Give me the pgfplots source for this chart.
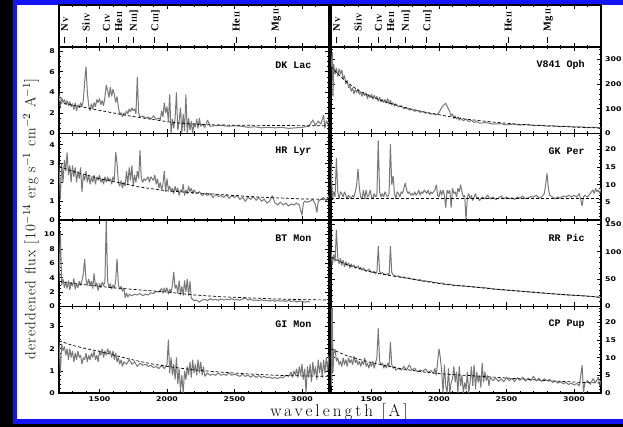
\documentclass[border=0pt]{standalone}
\usepackage{fontspec}
\usepackage{pgfplots}
\usepackage{pgfplotstable}
\pgfplotsset{compat=1.18}
\newfontfamily\tickfamily{DejaVu Sans}
\newfontfamily\namefamily{Liberation Mono}
\newfontfamily\linefamily{Liberation Serif}
\newfontfamily\labfamily{Latin Modern Roman}[LetterSpace=18]
\newfontfamily\ylabfamily{Latin Modern Roman}[LetterSpace=8]
\newcommand\tickf{\tickfamily\bfseries\fontsize{6.5pt}{7pt}\selectfont}
\newcommand\namef{\namefamily\bfseries\fontsize{10pt}{11pt}\selectfont}
\newcommand\linef{\linefamily\bfseries\fontsize{10.5pt}{11pt}\selectfont}
\newcommand\ylabf{\ylabfamily\fontsize{15pt}{17pt}\selectfont}
\newcommand\xlabf{\labfamily\fontsize{17pt}{19pt}\selectfont}
\definecolor{specgray}{RGB}{120,120,120}
\definecolor{frameblue}{RGB}{20,20,250}

% ---------------- DK Lac ----------------
\pgfplotstableread{
x y
1200 3.8
1210 2.6
1220 3.5
1230 3.0
1240 3.3
1250 2.8
1260 3.2
1270 2.7
1280 3.1
1290 2.6
1300 2.9
1310 2.3
1320 3.0
1330 2.2
1340 2.8
1350 2.5
1360 3.0
1370 2.6
1380 3.2
1390 5.0
1400 6.5
1410 4.0
1420 2.7
1430 2.2
1440 2.9
1450 2.4
1460 3.0
1470 2.6
1480 3.3
1490 3.0
1500 3.4
1510 2.8
1520 3.2
1530 2.7
1540 3.5
1550 4.7
1560 4.2
1570 3.5
1580 4.5
1590 3.6
1600 4.3
1610 3.8
1620 3.0
1630 3.6
1640 2.5
1650 1.9
1660 2.0
1670 1.6
1680 2.0
1690 1.8
1700 2.2
1710 1.9
1720 2.4
1730 2.1
1740 2.5
1750 2.2
1760 2.4
1770 1.9
1780 5.5
1790 2.0
1800 1.6
1820 1.7
1840 1.5
1860 1.6
1880 1.4
1900 1.7
1920 1.4
1940 1.5
1950 1.3
1960 2.2
1970 1.6
1980 3.0
1990 2.0
2000 2.6
2010 1.2
2020 3.8
2030 0.0
2040 1.4
2050 0.5
2060 1.5
2070 4.0
2080 0.3
2090 1.2
2100 2.5
2110 0.0
2120 1.9
2130 0.2
2140 3.8
2150 0.0
2160 1.5
2170 0.3
2180 1.2
2190 0.0
2200 1.0
2210 0.6
2220 1.4
2230 0.5
2240 1.5
2250 0.7
2260 0.9
2280 0.6
2300 1.3
2320 0.7
2350 0.75
2400 0.8
2450 0.7
2500 0.75
2550 0.7
2600 0.6
2650 0.65
2700 0.55
2750 0.6
2800 0.55
2850 0.6
2900 0.5
2950 0.55
3000 0.6
3050 0.7
3080 1.3
3100 0.8
3120 1.2
3140 0.9
3160 1.8
3170 0.5
3180 1.2
3200 1.0
}\dklac
\pgfplotstableread{
x y
1200 3.0
1300 2.75
1400 2.5
1500 2.25
1600 2.0
1700 1.75
1800 1.55
1900 1.35
2000 1.15
2100 1.0
2200 0.92
2300 0.85
2500 0.8
2800 0.78
3000 0.76
3200 0.75
}\dklacfit

% ---------------- HR Lyr ----------------
\pgfplotstableread{
x y
1200 2.9
1210 1.1
1220 3.0
1230 2.0
1240 3.2
1250 2.6
1260 3.6
1270 2.4
1280 2.9
1290 2.0
1300 2.9
1310 2.3
1320 2.8
1330 2.0
1340 2.6
1350 2.2
1360 2.8
1370 1.5
1380 2.4
1390 2.1
1400 2.6
1410 2.0
1420 2.4
1430 1.9
1440 2.3
1450 2.0
1460 2.4
1470 1.9
1480 2.3
1490 2.1
1500 2.4
1510 2.0
1520 2.2
1530 1.9
1540 2.3
1550 2.0
1560 2.3
1570 2.1
1580 2.2
1590 1.9
1600 2.3
1610 2.1
1620 3.6
1630 3.0
1640 2.0
1650 1.8
1660 2.1
1670 1.7
1680 2.0
1690 1.8
1700 2.6
1710 1.9
1720 2.8
1730 2.1
1740 2.9
1750 1.8
1760 2.4
1770 2.0
1780 2.6
1790 2.2
1800 3.7
1810 2.2
1820 2.0
1830 2.2
1840 2.1
1860 2.3
1870 2.0
1880 2.3
1900 2.1
1910 2.4
1920 1.9
1930 2.2
1940 1.7
1950 2.0
1960 1.6
1970 1.9
1980 2.6
1990 1.5
2000 2.2
2010 1.6
2020 1.8
2030 1.5
2040 1.7
2050 1.4
2060 1.8
2070 1.5
2080 1.7
2090 1.3
2100 1.6
2110 1.5
2120 1.9
2130 1.3
2140 1.6
2150 1.4
2160 1.8
2170 1.5
2180 1.7
2190 1.4
2200 1.6
2220 1.4
2240 1.5
2260 1.3
2280 1.4
2300 1.3
2320 1.4
2340 1.2
2360 1.35
2380 1.25
2400 1.3
2420 1.2
2440 1.35
2460 1.15
2480 1.3
2500 1.2
2520 1.3
2540 1.1
2560 1.2
2580 1.0
2600 1.2
2620 1.1
2640 1.25
2660 1.05
2680 1.2
2700 1.0
2720 1.1
2740 0.9
2760 1.0
2780 1.3
2800 0.9
2820 0.8
2840 0.95
2860 0.8
2880 0.9
2900 0.75
2920 0.85
2940 0.8
2960 0.9
2980 0.8
3000 0.25
3010 0.9
3020 1.0
3040 0.95
3060 1.0
3080 1.1
3100 0.8
3110 0.4
3120 1.0
3140 1.1
3160 1.2
3180 1.0
3200 1.3
}\hrlyr
\pgfplotstableread{
x y
1200 2.85
1300 2.6
1400 2.4
1500 2.2
1600 2.05
1700 1.9
1800 1.75
1900 1.65
2000 1.55
2200 1.45
2400 1.35
2600 1.25
2800 1.18
3000 1.12
3200 1.1
}\hrlyrfit

% ---------------- BT Mon ----------------
\pgfplotstableread{
x y
1200 3.5
1210 10.4
1220 3.0
1230 3.8
1240 2.6
1250 3.4
1260 2.5
1270 3.6
1280 2.3
1290 3.4
1300 2.8
1310 3.9
1320 2.4
1330 3.2
1340 2.6
1350 3.5
1360 2.9
1370 3.6
1380 4.5
1390 6.6
1400 3.8
1410 2.9
1420 3.8
1430 3.0
1440 3.5
1450 2.5
1460 4.6
1470 2.8
1480 3.3
1490 2.2
1500 3.2
1510 2.6
1520 3.4
1530 2.9
1540 3.4
1550 11.9
1560 3.6
1570 2.6
1580 3.2
1590 2.4
1600 3.0
1610 2.5
1620 3.6
1630 6.6
1640 3.0
1650 2.4
1660 2.8
1670 2.1
1680 2.6
1690 1.2
1700 1.9
1710 1.3
1720 1.7
1740 1.5
1760 1.7
1780 1.6
1800 1.8
1820 1.5
1840 1.7
1860 1.6
1880 1.9
1900 1.8
1920 2.1
1940 2.0
1960 2.5
1970 1.8
1980 2.6
1990 2.0
2000 2.6
2010 1.7
2020 2.4
2030 1.9
2040 3.0
2050 4.8
2060 2.5
2070 3.0
2080 1.8
2090 3.6
2100 1.6
2110 2.8
2120 1.5
2130 3.6
2140 2.0
2150 3.8
2160 1.5
2170 3.5
2180 1.2
2190 1.0
2200 0.8
2220 0.9
2240 0.6
2260 0.9
2280 1.0
2300 0.8
2320 1.1
2340 0.9
2360 1.0
2380 0.85
2400 1.05
2420 0.9
2440 1.0
2460 0.95
2480 1.1
2500 0.9
2520 1.0
2540 0.85
2560 1.05
2580 1.2
2600 0.9
2620 1.0
2640 0.85
2660 0.9
2680 0.8
2700 0.95
2720 0.8
2740 0.85
2760 0.75
2780 0.9
2800 0.7
2820 0.85
2840 0.75
2860 0.8
2880 0.7
2900 0.85
2920 0.7
2940 0.8
2960 0.65
2980 0.75
3000 0.7
3020 0.6
3040 0.7
3060 0.6
}\btmon
\pgfplotstableread{
x y
1200 3.5
1300 3.2
1400 3.0
1500 2.8
1600 2.6
1700 2.45
1800 2.3
1900 2.15
2000 2.0
2100 1.8
2200 1.6
2400 1.35
2600 1.2
2800 1.05
3000 0.95
3200 0.9
}\btmonfit

% ---------------- GI Mon ----------------
\pgfplotstableread{
x y
1200 2.3
1210 0.9
1220 2.2
1230 1.9
1240 2.1
1250 1.7
1260 2.0
1270 1.5
1280 2.0
1290 1.6
1300 1.9
1310 1.4
1320 1.8
1330 1.5
1340 1.9
1350 1.6
1360 1.7
1370 1.3
1380 1.6
1390 1.5
1400 1.8
1410 1.4
1420 1.7
1430 1.5
1440 1.8
1450 1.6
1460 1.9
1470 1.5
1480 1.7
1490 1.4
1500 1.9
1510 1.7
1520 2.0
1530 1.6
1540 1.9
1550 1.7
1560 2.0
1570 1.8
1580 1.9
1590 1.6
1600 1.9
1610 1.5
1620 1.8
1630 1.4
1640 1.6
1650 1.3
1660 1.5
1670 1.2
1680 1.4
1700 1.3
1720 1.5
1740 1.3
1760 1.4
1780 1.2
1800 1.35
1820 1.25
1840 1.3
1860 1.2
1880 1.25
1900 1.15
1920 1.2
1940 1.1
1960 1.25
1980 1.1
2000 1.3
2010 2.4
2020 0.9
2030 1.6
2040 0.8
2050 1.3
2060 0.6
2070 1.6
2080 0.4
2090 1.1
2100 0.1
2110 0.8
2120 0.0
2130 1.0
2140 0.6
2150 1.2
2160 0.8
2170 1.4
2180 0.7
2190 1.5
2200 0.9
2210 1.3
2220 0.8
2230 1.5
2240 0.9
2250 1.4
2260 0.8
2270 1.2
2280 0.75
2300 0.9
2320 0.8
2340 0.85
2360 0.8
2380 0.9
2400 0.8
2420 0.85
2440 0.8
2460 0.9
2480 0.8
2500 0.85
2520 0.8
2540 0.75
2560 0.85
2580 0.75
2600 0.8
2620 0.72
2640 0.8
2660 0.7
2680 0.78
2700 0.7
2720 0.75
2740 0.68
2760 0.72
2780 0.66
2800 0.7
2820 0.65
2840 0.72
2860 0.68
2880 0.8
2900 0.75
2920 0.95
2930 0.7
2940 1.0
2950 0.8
2960 1.1
2970 0.7
2980 1.2
2990 0.8
3000 1.3
3010 0.6
3020 1.1
3030 0.0
3040 1.2
3050 0.7
3060 1.3
3070 0.5
3080 1.4
3090 0.8
3100 1.2
3110 0.6
3120 1.5
3130 0.9
3140 1.4
3150 0.7
3160 1.5
3170 0.9
3180 1.6
3190 1.0
3200 1.7
}\gimon
\pgfplotstableread{
x y
1200 2.35
1300 2.15
1400 2.0
1500 1.88
1600 1.72
1700 1.56
1800 1.42
1900 1.3
2000 1.2
2100 1.12
2200 1.04
2400 0.94
2600 0.86
2800 0.8
3000 0.77
3200 0.75
}\gimonfit

% ---------------- V841 Oph ----------------
\pgfplotstableread{
x y
1200 260
1210 330
1215 150
1220 280
1230 240
1240 265
1250 230
1260 262
1270 240
1280 258
1290 220
1300 235
1310 200
1320 215
1330 185
1340 195
1350 170
1360 185
1370 160
1380 178
1390 165
1400 180
1410 158
1420 170
1430 150
1440 168
1450 152
1460 165
1470 140
1480 158
1490 145
1500 160
1510 138
1520 155
1530 140
1540 150
1550 130
1560 148
1570 128
1580 140
1590 125
1600 138
1610 122
1620 142
1630 118
1640 135
1650 115
1660 125
1670 110
1680 120
1700 108
1720 112
1740 100
1760 104
1780 95
1800 98
1820 90
1840 93
1860 86
1880 89
1900 82
1920 84
1940 78
1960 80
1980 75
2000 85
2010 95
2020 105
2030 112
2040 118
2050 122
2060 110
2070 100
2080 88
2090 70
2100 80
2110 60
2120 72
2130 58
2140 66
2150 55
2160 62
2180 52
2200 58
2220 48
2240 53
2260 45
2280 48
2300 42
2350 44
2400 38
2450 40
2500 35
2550 38
2600 34
2650 36
2700 32
2750 33
2800 30
2850 31
2900 28
2950 29
3000 26
3050 27
3100 24
3150 25
3200 22
}\vop
\pgfplotstableread{
x y
1200 270
1300 215
1400 175
1500 148
1600 128
1700 112
1800 98
1900 86
2000 76
2100 66
2200 58
2400 46
2600 37
2800 31
3000 26
3200 22
}\vopfit

% ---------------- GK Per ----------------
\pgfplotstableread{
x y
1200 16
1210 6
1220 8
1230 6.5
1240 17.5
1250 8
1260 6
1270 8
1280 7.5
1290 6.5
1300 8
1310 7
1320 6
1330 7
1340 6.5
1350 6
1360 7
1370 6.5
1380 8
1390 10
1400 14.5
1410 9
1420 6.5
1430 6
1440 8.5
1450 6
1460 8.5
1470 6.5
1480 7
1490 8.5
1500 6.5
1510 6
1520 7.5
1530 6.5
1540 7
1550 22.5
1560 8
1570 6.5
1580 7.5
1590 6.5
1600 8
1610 7
1620 6.5
1630 7.5
1640 21.5
1650 10
1660 12.5
1670 7.5
1680 6
1690 8
1700 7.5
1710 6.5
1720 8
1730 7.5
1740 9
1750 10.5
1760 8.5
1770 7.5
1780 8
1790 7
1800 7.5
1810 7
1820 8
1830 7
1840 7.5
1850 8.5
1860 7
1870 8
1880 7.5
1890 8.5
1900 8
1910 7.5
1920 8.5
1930 7
1940 8
1950 7.5
1960 8
1970 8.5
1980 10
1990 7
2000 6.5
2010 8.5
2020 7
2030 8.5
2040 7
2050 3.5
2060 8.5
2070 7.5
2080 8.5
2090 3.5
2100 9
2110 7.5
2120 8
2130 6.5
2140 9
2150 8
2160 10
2170 8
2180 6.5
2190 7
2200 0
2210 6.5
2220 7.5
2230 6
2240 7
2250 5.5
2260 6.5
2270 7.5
2280 6
2290 6.5
2300 5.5
2320 6.5
2340 6
2360 7
2380 6
2400 6.5
2420 5.8
2440 6.2
2460 6.8
2480 6
2500 6.5
2520 6
2540 6.3
2560 5.8
2580 6.5
2600 6.2
2620 6.8
2640 6
2660 6.3
2680 6.6
2700 6.5
2720 7
2740 6.2
2760 6.5
2780 7.5
2790 10
2800 13.2
2810 9
2820 7
2840 6.5
2860 6
2880 6.5
2900 6.2
2920 6.8
2940 6.5
2960 7
2980 6.5
3000 7
3020 6.5
3040 7.5
3060 4
3070 6.5
3080 7
3100 6.5
3120 7.5
3140 8.5
3150 7.5
3160 9
3170 8
3180 8.5
3190 7.5
3200 9
}\gkper
\pgfplotstableread{
x y
1200 6
3200 6
}\gkperfit

% ---------------- RR Pic ----------------
\pgfplotstableread{
x y
1200 100
1210 75
1220 95
1230 82
1240 140
1250 90
1260 78
1270 88
1280 75
1290 85
1300 72
1310 82
1320 74
1330 80
1340 70
1350 78
1360 72
1370 76
1380 70
1400 74
1410 68
1420 72
1430 66
1440 70
1460 64
1480 68
1500 62
1520 64
1530 60
1540 62
1550 110
1560 64
1570 60
1580 62
1600 58
1620 60
1630 56
1640 110
1650 62
1660 58
1680 55
1700 56
1720 53
1740 54
1760 52
1780 52
1800 50
1820 50
1840 48
1860 49
1880 46
1900 47
1920 45
1940 46
1960 43
1980 44
2000 42
2020 43
2040 41
2060 40
2080 41
2100 39
2150 38
2200 37
2250 36
2300 35
2350 34
2400 32
2450 31
2500 30
2550 29
2600 28
2650 27
2700 26
2750 25
2800 24
2850 23
2900 22
2950 21
3000 20.5
3050 20
3100 19
3150 18
3200 16
}\rrpic
\pgfplotstableread{
x y
1200 90
1300 78
1400 70
1500 63
1600 58
1700 54
1800 50
1900 46
2000 42
2100 39
2200 37
2400 32
2600 28
2800 24
3000 20.5
3200 17
}\rrpicfit

% ---------------- CP Pup ----------------
\pgfplotstableread{
x y
1200 24
1205 2
1210 24
1215 6
1220 11
1230 12.5
1240 9
1250 10
1260 8
1270 9
1280 7.5
1290 10
1300 8
1310 9.5
1320 7.5
1330 10
1340 8.5
1350 9.5
1360 8
1370 10.5
1380 8.5
1390 9.5
1400 8
1410 9
1420 7.5
1430 9
1440 8
1450 10
1460 7.5
1470 8.5
1480 7
1490 8.5
1500 7.5
1510 9
1520 7
1530 8.5
1540 10
1550 18.3
1560 9
1570 8
1580 8.5
1590 7
1600 8
1610 7
1620 8.5
1630 7.5
1640 14.5
1650 8
1660 7
1670 7.5
1680 6.5
1700 7
1720 6.5
1740 7.5
1760 6.5
1780 8
1800 6.5
1820 7
1840 6
1860 6.5
1880 6.2
1900 6.8
1920 5.8
1940 6.4
1960 5.5
1970 7
1980 5
1990 9
2000 12.5
2010 10
2020 6
2030 0
2040 8
2050 2
2060 0
2070 7
2080 0
2090 3
2100 4
2110 7.5
2120 3
2130 6
2140 0
2150 7.5
2160 2
2170 5
2180 0
2190 3
2200 1
2210 6
2220 0
2230 3
2240 7.5
2250 2
2260 8
2270 1
2280 6
2290 3
2300 5
2310 1.5
2320 8.5
2330 3
2340 6
2350 3.5
2360 5
2370 2
2380 4.5
2400 3.5
2420 4.2
2440 3.3
2460 4.0
2480 3.2
2500 4.4
2520 3.5
2540 4.1
2560 3.3
2580 4.3
2600 3.6
2620 4.5
2640 3.4
2660 4.2
2680 3.5
2700 4.8
2720 3.4
2740 4.2
2760 3.3
2780 4.0
2800 3.5
2820 3.8
2840 3.0
2860 3.4
2880 2.8
2900 3.2
2920 2.6
2940 3.0
2960 2.4
2980 2.8
3000 2.3
3020 2.7
3040 2.0
3060 7.9
3070 0
3080 2.8
3100 3.5
3120 2.5
3140 4.0
3160 3.0
3180 4.5
3190 2.0
3200 3.5
}\cppup
\pgfplotstableread{
x y
1200 12.5
1300 10.8
1400 9.6
1500 8.6
1600 7.8
1700 7.0
1800 6.4
1900 5.9
2000 5.5
2100 5.2
2200 5.0
2400 4.5
2600 4.0
2800 3.5
3000 3.1
3200 2.8
}\cppupfit

\pgfplotsset{
  base/.style={
    scale only axis, width=270pt, xmin=1200, xmax=3200,
    axis line style={line width=1.3pt},
    x axis line style={line width=2.2pt},
    tick align=inside, major tick length=4pt, minor tick length=2.2pt,
    tick style={black, line width=0.6pt},
    xtick={1500,2000,2500,3000}, minor xtick={1200,1300,...,3200},
    xticklabels={},
    every tick label/.append style={font=\tickf, xscale=1.2},
    /pgf/number format/assume math mode=true,
    /pgf/number format/1000 sep={},
  },
  panel/.style={base, height=86.5pt, ymin=0},
  strip/.style={base, height=42pt, ymin=0, ymax=42, ytick=\empty},
  leftp/.style={panel},
  rightp/.style={panel, yticklabel pos=right},
  bottomx/.style={xticklabels={1500,2000,2500,3000}},
  spec/.style={color=specgray, line width=1pt, sharp plot, mark=none, line join=miter, miter limit=2},
  fit/.style={black, line width=0.7pt, dash pattern=on 3pt off 2pt, mark=none},
}
\tikzset{
  pname/.style={anchor=east, font=\namef},
  lline/.style={rotate=90, anchor=west, inner sep=0pt, text height=7.2pt, text depth=0pt, font=\linef},
}
\newcommand\lab[1]{\rule[3.2pt]{6pt}{0.8pt}\hspace{5pt}#1}
\newcommand\rn[1]{{\fontsize{7.5pt}{8pt}\selectfont #1}}

\begin{document}
\begin{tikzpicture}
\path[use as bounding box] (0pt,0pt) rectangle (623pt,427pt);
\fill[black] (0pt,0pt) rectangle (623pt,427pt);
\fill[frameblue] (13pt,3pt) rectangle (623pt,427pt);
\fill[white] (17pt,8pt) rectangle (623pt,422pt);

% line-label strips
\begin{axis}[strip, at={(59pt,380pt)}, anchor=south west]
\node[lline] at (axis cs:1240,4) {\lab{N\,\rn{V}}};
\node[lline] at (axis cs:1400,4) {\lab{Si\,\rn{IV}}};
\node[lline] at (axis cs:1550,4) {\lab{C\,\rn{IV}}};
\node[lline] at (axis cs:1640,4) {\lab{He\,\rn{II}}};
\node[lline] at (axis cs:1750,4) {\lab{N\,\rn{III}]}};
\node[lline] at (axis cs:1909,4) {\lab{C\,\rn{III}]}};
\node[lline] at (axis cs:2511,4) {\lab{He\,\rn{II}}};
\node[lline] at (axis cs:2800,4) {\lab{Mg\,\rn{II}}};
\end{axis}
\begin{axis}[strip, at={(331pt,380pt)}, anchor=south west]
\node[lline] at (axis cs:1240,4) {\lab{N\,\rn{V}}};
\node[lline] at (axis cs:1400,4) {\lab{Si\,\rn{IV}}};
\node[lline] at (axis cs:1550,4) {\lab{C\,\rn{IV}}};
\node[lline] at (axis cs:1640,4) {\lab{He\,\rn{II}}};
\node[lline] at (axis cs:1750,4) {\lab{N\,\rn{III}]}};
\node[lline] at (axis cs:1909,4) {\lab{C\,\rn{III}]}};
\node[lline] at (axis cs:2511,4) {\lab{He\,\rn{II}}};
\node[lline] at (axis cs:2800,4) {\lab{Mg\,\rn{II}}};
\end{axis}

% left column
\begin{axis}[leftp, at={(59pt,293.5pt)}, anchor=south west, ymax=8.4,
  ytick={0,2,4,6,8}, minor ytick={0,0.5,...,8}]
\addplot[spec] table {\dklac};
\addplot[fit] table {\dklacfit};
\node[pname] at (rel axis cs:0.948,0.79) {DK Lac};
\end{axis}
\begin{axis}[leftp, at={(59pt,207pt)}, anchor=south west, ymax=4.6,
  ytick={0,1,2,3,4}, minor ytick={0,0.2,...,4.4}]
\addplot[spec] table {\hrlyr};
\addplot[fit] table {\hrlyrfit};
\node[pname] at (rel axis cs:0.948,0.79) {HR Lyr};
\end{axis}
\begin{axis}[leftp, at={(59pt,120.5pt)}, anchor=south west, ymax=12,
  ytick={0,2,4,6,8,10}, minor ytick={0,0.5,...,11.5}]
\addplot[spec] table {\btmon};
\addplot[fit] table {\btmonfit};
\node[pname] at (rel axis cs:0.948,0.79) {BT Mon};
\end{axis}
\begin{axis}[leftp, bottomx, at={(59pt,34pt)}, anchor=south west, ymax=3.9,
  ytick={0,1,2,3}, minor ytick={0,0.2,...,3.8}]
\addplot[spec] table {\gimon};
\addplot[fit] table {\gimonfit};
\node[pname] at (rel axis cs:0.948,0.79) {GI Mon};
\end{axis}

% right column
\begin{axis}[rightp, at={(331pt,293.5pt)}, anchor=south west, ymax=350,
  ytick={0,100,200,300}, minor ytick={0,20,...,340}]
\addplot[spec] table {\vop};
\addplot[fit] table {\vopfit};
\node[pname] at (rel axis cs:0.952,0.79) {V841 Oph};
\end{axis}
\begin{axis}[rightp, at={(331pt,207pt)}, anchor=south west, ymax=24.5,
  ytick={0,5,10,15,20}, minor ytick={0,1,...,24}]
\addplot[spec] table {\gkper};
\addplot[fit] table {\gkperfit};
\node[pname] at (rel axis cs:0.952,0.79) {GK Per};
\end{axis}
\begin{axis}[rightp, at={(331pt,120.5pt)}, anchor=south west, ymax=158,
  ytick={0,50,100,150}, minor ytick={0,10,...,150}]
\addplot[spec] table {\rrpic};
\addplot[fit] table {\rrpicfit};
\node[pname] at (rel axis cs:0.952,0.79) {RR Pic};
\end{axis}
\begin{axis}[rightp, bottomx, at={(331pt,34pt)}, anchor=south west, ymax=24.5,
  ytick={0,5,10,15,20}, minor ytick={0,1,...,24}]
\addplot[spec] table {\cppup};
\addplot[fit] table {\cppupfit};
\node[pname] at (rel axis cs:0.952,0.79) {CP Pup};
\end{axis}

\node[rotate=90, font=\ylabf] at (31pt,208pt) {dereddened flux [10$^{-14}$ erg s$^{-1}$ cm$^{-2}$ A$^{-1}$]};
\node[font=\xlabf] at (339pt,15pt) {wavelength [A]};
\end{tikzpicture}
\end{document}
